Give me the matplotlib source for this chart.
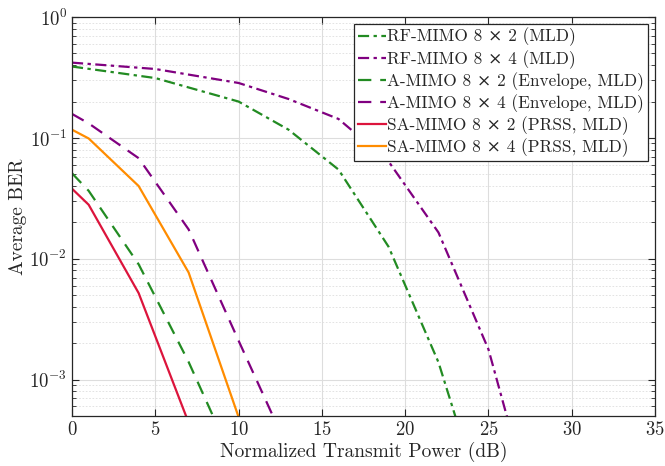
import matplotlib
matplotlib.use("Agg")
import matplotlib.pyplot as plt
from matplotlib.ticker import LogLocator, NullFormatter

plt.rcParams["font.family"] = ["cmr10", "DejaVu Serif"]
plt.rcParams["mathtext.fontset"] = "cm"
plt.rcParams["axes.formatter.use_mathtext"] = True
plt.rcParams["axes.unicode_minus"] = False

# transmit power grids (dB)
snr_rf = [0, 5, 10, 13, 16, 19, 22, 25, 28]
snr_a_8x2 = [0, 1, 4, 7, 10]
snr_a_8x4 = [0, 1, 4, 7, 10, 13]
snr_sa_8x2 = [0, 1, 4, 7]
snr_sa_8x4 = [0, 1, 4, 7, 10]

# average BER
ber_rf_8x2 = [0.39, 0.313, 0.200, 0.117, 0.0547, 0.0126, 0.00139, 6.6e-5, 3e-6]
ber_rf_8x4 = [0.42, 0.372, 0.285, 0.21, 0.1435, 0.064, 0.0165, 0.00178, 5.6e-5]
ber_a_8x2 = [0.051, 0.0365, 0.009, 0.0014, 1.7e-4]
ber_a_8x4 = [0.158, 0.132, 0.068, 0.0175, 0.0021, 2.6e-4]
ber_sa_8x2 = [0.038, 0.028, 0.0052, 4.4e-4]
ber_sa_8x4 = [0.117, 0.099, 0.040, 0.0077, 4.9e-4]

green = "#228b22"
purple = "#800080"
red = "#dc143c"
orange = "#ff8c00"
txt = "#262626"

fig = plt.figure(figsize=(6.65, 4.66), dpi=100)
ax = fig.add_axes([0.1083, 0.1073, 0.8767, 0.856])

lw = 1.6
dashdot = (5, 2, 1.5, 2)
dashed = (6, 4)

ax.plot(snr_rf[:len(ber_rf_8x2)], ber_rf_8x2, color=green, lw=lw, dashes=dashdot,
        label="RF-MIMO 8 × 2 (MLD)")
ax.plot(snr_rf, ber_rf_8x4, color=purple, lw=lw, dashes=dashdot,
        label="RF-MIMO 8 × 4 (MLD)")
ax.plot(snr_a_8x2, ber_a_8x2, color=green, lw=lw, dashes=dashed,
        label="A-MIMO 8 × 2 (Envelope, MLD)")
ax.plot(snr_a_8x4, ber_a_8x4, color=purple, lw=lw, dashes=dashed,
        label="A-MIMO 8 × 4 (Envelope, MLD)")
ax.plot(snr_sa_8x2, ber_sa_8x2, color=red, lw=lw,
        label="SA-MIMO 8 × 2 (PRSS, MLD)")
ax.plot(snr_sa_8x4, ber_sa_8x4, color=orange, lw=lw,
        label="SA-MIMO 8 × 4 (PRSS, MLD)")

ax.set_yscale("log")
ax.set_xlim(0, 35)
ax.set_ylim(5e-4, 1)
ax.set_xticks(range(0, 36, 5))
ax.yaxis.set_major_locator(LogLocator(base=10, numticks=10))
ax.yaxis.set_minor_locator(LogLocator(base=10, subs=range(2, 10), numticks=20))
ax.yaxis.set_minor_formatter(NullFormatter())

ax.grid(True, which="major", color="#dddddd", lw=0.8)
ax.grid(True, which="minor", axis="y", color="#dedede", lw=0.6, ls=(0, (2, 2)))
ax.set_axisbelow(True)

ax.tick_params(which="both", direction="in", top=True, right=True, colors=txt,
               labelsize=13.5)
ax.tick_params(which="major", length=5)
ax.tick_params(which="minor", length=3)
for s in ax.spines.values():
    s.set_color(txt)
    s.set_linewidth(0.9)

ax.set_xlabel("Normalized Transmit Power (dB)", fontsize=14, color=txt, labelpad=2)
ax.set_ylabel("Average BER", fontsize=14, color=txt, labelpad=2)

leg = ax.legend(loc="upper right", fontsize=12.4, fancybox=False, framealpha=1,
                edgecolor=txt, borderaxespad=0.4, borderpad=0.22,
                labelspacing=0.2, handlelength=1.6, handletextpad=0.1)
leg.get_frame().set_linewidth(0.9)
for t in leg.get_texts():
    t.set_color(txt)

fig.savefig("out.png", dpi=100)
